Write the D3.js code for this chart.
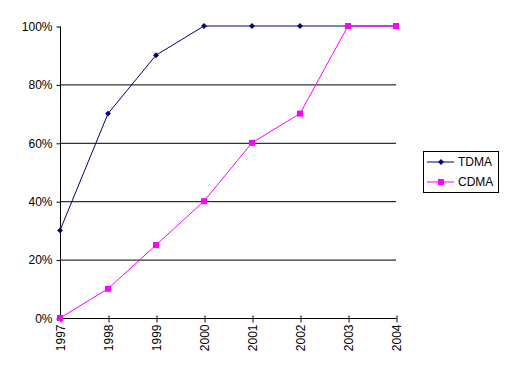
<!DOCTYPE html>
<meta charset="utf-8">
<style>
body { margin: 0; background: #fff; }
text { font-family: "Liberation Sans", Arial, sans-serif; font-size: 12px; fill: #000; }
</style>
<body>
<script src="https://cdn.jsdelivr.net/npm/d3@7"></script>
<script>

var width = 510,
    height = 373;

var years = ["1997", "1998", "1999", "2000", "2001", "2002", "2003", "2004"];
var tdma = [30, 70, 90, 100, 100, 100, 100, 100];
var cdma = [0, 10, 25, 40, 60, 70, 100, 100];
var yTicks = [0, 20, 40, 60, 80, 100];

var series = [
  {name: "TDMA", values: tdma, color: "#000080", symbol: d3.symbolDiamond2 || d3.symbolDiamond, size: 22},
  {name: "CDMA", values: cdma, color: "#ff00ff", symbol: d3.symbolSquare, size: 36}
];

var plotLeft = 60, plotRight = 396, plotTop = 26, plotBottom = 318;

var x = d3.scalePoint().domain(years).range([plotLeft, plotRight]);
var y = d3.scaleLinear().domain([0, 100]).range([plotBottom, plotTop]);

var svg = d3.select("body").append("svg")
    .attr("width", width)
    .attr("height", height);

// gridlines (not at 0 or 100)
svg.append("g").selectAll("line")
    .data(yTicks.filter(function(d) { return d > 0 && d < 100; }))
  .enter().append("line")
    .attr("x1", plotLeft).attr("x2", plotRight)
    .attr("y1", function(d) { return y(d) + 0.5; })
    .attr("y2", function(d) { return y(d) + 0.5; })
    .attr("stroke", "#000");

var yAxis = svg.append("g")
    .attr("transform", "translate(" + (plotLeft + 0.5) + ",0.5)")
    .call(d3.axisLeft(y).tickValues(yTicks).tickSize(4).tickPadding(4)
      .tickFormat(function(d) { return d + "%"; }));
yAxis.select(".domain").attr("d", "M0," + plotTop + "V" + plotBottom);

var xAxis = svg.append("g")
    .attr("transform", "translate(0.5," + (plotBottom + 0.5) + ")")
    .call(d3.axisBottom(x).tickSize(0));
xAxis.select(".domain").attr("d", "M" + plotLeft + ",0H" + plotRight);
xAxis.selectAll(".tick line").attr("y1", -3).attr("y2", 4);
xAxis.selectAll(".tick text")
    .attr("transform", "rotate(-90)")
    .attr("x", -6).attr("y", 0).attr("dy", "0.35em")
    .style("text-anchor", "end");

svg.selectAll("g.tick text").style("font-family", "'Liberation Sans', Arial, sans-serif").style("font-size", "12px");
svg.selectAll(".domain, .tick line").attr("stroke", "#000");

var line = d3.line()
    .x(function(d, i) { return x(years[i]); })
    .y(function(d) { return y(d); });

series.forEach(function(s) {
  var g = svg.append("g");
  g.append("path")
      .attr("d", line(s.values))
      .attr("fill", "none")
      .attr("stroke", s.color)
      .attr("stroke-width", 1);
  g.selectAll("path.pt")
      .data(s.values)
    .enter().append("path")
      .attr("class", "pt")
      .attr("transform", function(d, i) { return "translate(" + x(years[i]) + "," + y(d) + ")"; })
      .attr("d", d3.symbol().type(s.symbol).size(s.size))
      .attr("fill", s.color);
});

// legend
var legend = svg.append("g");
legend.append("rect")
    .attr("x", 423.5).attr("y", 151.5)
    .attr("width", 75).attr("height", 41)
    .attr("fill", "#fff").attr("stroke", "#000");

var item = legend.selectAll("g.item")
    .data(series)
  .enter().append("g")
    .attr("transform", function(d, i) { return "translate(427," + (162 + i * 20) + ")"; });
item.append("line")
    .attr("x1", 0).attr("x2", 27)
    .attr("stroke", function(d) { return d.color; });
item.append("path")
    .attr("transform", "translate(14,0)")
    .attr("d", function(d) { return d3.symbol().type(d.symbol).size(d.size)(); })
    .attr("fill", function(d) { return d.color; });
item.append("text")
    .attr("x", 31).attr("dy", "0.35em")
    .text(function(d) { return d.name; });

</script>
